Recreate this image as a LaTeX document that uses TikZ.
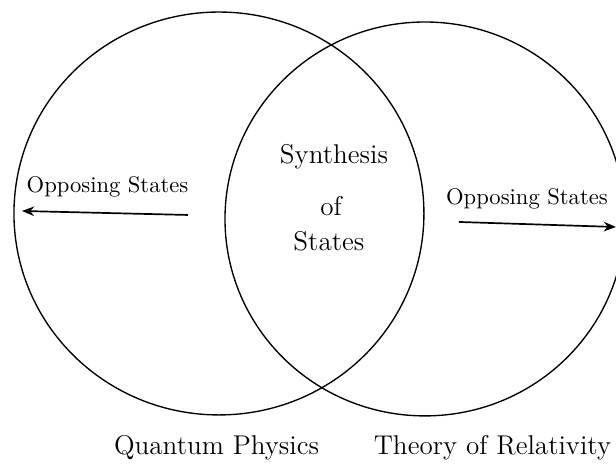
\documentclass[tikz,border=0pt]{standalone}
\usepackage{tikz}
\usetikzlibrary{arrows.meta,positioning,shapes.geometric}
\tikzset{
  vennset/.style={draw=black,ellipse,inner sep=0pt,line width=0.6pt},
  setlabel/.style={font=\large,anchor=base,inner sep=0pt},
  statelabel/.style={font=\normalsize,anchor=base,inner sep=0pt},
  statearrow/.style={-{Stealth[length=1.9mm,width=1.5mm]},line width=0.75pt,draw=black}
}
\begin{document}
\begin{tikzpicture}
\useasboundingbox (0,0) rectangle (9.58,-7.215);
% the two sets
\node[vennset,minimum width=6.376cm,minimum height=6.266cm] (quantum) at (3.405,-3.320) {};
\node[vennset,minimum width=6.220cm,minimum height=6.126cm] (relativity) at (6.609,-3.405) {};
% overlap
\node[setlabel] (synth) at (5.194,-2.535) {Synthesis};
\node[setlabel] (synthof) at (5.147,-3.359) {of};
\node[setlabel] (synthstates) at (5.116,-3.903) {States};
% opposing states
\node[statelabel] (oppleft) at (1.672,-2.986) {Opposing States};
\node[statelabel] (oppright) at (8.195,-3.188) {Opposing States};
\coordinate (leftfrom) at (2.923,-3.343);
\coordinate (leftto) at (0.342,-3.281);
\coordinate (rightfrom) at (7.137,-3.452);
\coordinate (rightto) at (9.579,-3.530);
\draw[statearrow] (leftfrom) -- (leftto);
\draw[statearrow] (rightfrom) -- (rightto);
% set names
\node[setlabel] (quantumname) at (3.367,-7.075) {Quantum Physics};
\node[setlabel] (relativityname) at (7.658,-7.075) {Theory of Relativity};
\end{tikzpicture}
\end{document}
